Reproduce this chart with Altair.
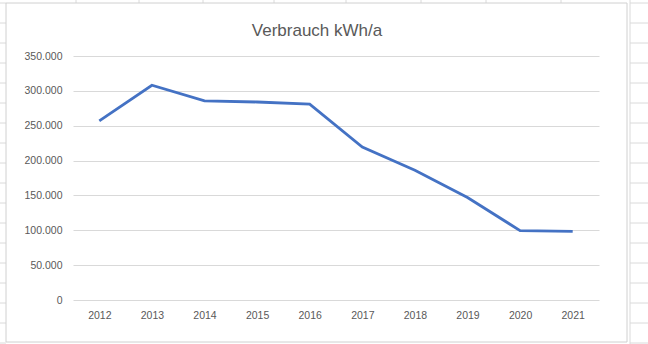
import altair as alt
import pandas as pd

years = ["2012", "2013", "2014", "2015", "2016", "2017", "2018", "2019", "2020", "2021"]
verbrauch = [257000, 308000, 285500, 284000, 281000, 219500, 186000, 147000, 99500, 98500]
title_text = "Verbrauch kWh/a"

df = pd.DataFrame({"Jahr": years, "Verbrauch": verbrauch})

FONT = "Liberation Sans"
GRAY = "#595959"
PAD_L, PAD_T = 73, 56

# Decorative spreadsheet cell lines around the chart frame (page pixels)
row_ys = list(range(3, 344, 20))
deco_rows = []
for yy in row_ys:
    deco_rows.append({"x": 0 - PAD_L, "x2": 6 - PAD_L, "y": yy - PAD_T, "y2": yy - PAD_T})
    deco_rows.append({"x": 630 - PAD_L, "x2": 648 - PAD_L, "y": yy - PAD_T, "y2": yy - PAD_T})
for xx in [76, 139, 203, 274, 346, 421, 486, 561]:
    deco_rows.append({"x": xx - PAD_L, "x2": xx - PAD_L, "y": 0 - PAD_T, "y2": 3 - PAD_T})
deco_rows.append({"x": 630 - PAD_L, "x2": 630 - PAD_L, "y": 0 - PAD_T, "y2": 344 - PAD_T})
deco = pd.DataFrame(deco_rows)

cells = alt.Chart(deco).mark_rule(color="#DADADA", strokeWidth=1).encode(
    x=alt.X("x:Q", scale=None, axis=None),
    x2="x2:Q",
    y=alt.Y("y:Q", scale=None, axis=None),
    y2="y2:Q",
)

frame = alt.Chart(pd.DataFrame({"k": [0]})).mark_rect(
    fill="transparent", stroke="#D0D0D0", strokeWidth=1
).encode(
    x=alt.value(6 - PAD_L), x2=alt.value(627 - PAD_L),
    y=alt.value(3 - PAD_T), y2=alt.value(342 - PAD_T),
)

title = alt.Chart(pd.DataFrame({"t": [title_text]})).mark_text(
    font=FONT, fontSize=17, color=GRAY, align="center", baseline="middle"
).encode(
    text="t:N",
    x=alt.value(317 - PAD_L),
    y=alt.value(31 - PAD_T),
)

line = alt.Chart(df).mark_line(color="#4472C4", strokeWidth=2.8, strokeCap="butt", strokeJoin="miter").encode(
    x=alt.X("Jahr:N", sort=years,
            scale=alt.Scale(type="point", padding=0.5),
            axis=alt.Axis(title=None, labelAngle=0, ticks=False, domain=False, grid=False,
                          labelPadding=10, labelFontSize=10.5, labelColor=GRAY, labelFont=FONT)),
    y=alt.Y("Verbrauch:Q",
            scale=alt.Scale(domain=[0, 350000], nice=False),
            axis=alt.Axis(title=None, values=[0, 50000, 100000, 150000, 200000, 250000, 300000, 350000],
                          labelExpr="replace(format(datum.value, ',d'), /,/g, '.')",
                          ticks=False, domain=False, gridColor="#D9D9D9", gridWidth=1,
                          labelPadding=11, labelFontSize=10.5, labelColor=GRAY, labelFont=FONT)),
)

chart = alt.layer(cells, frame, title, line).resolve_scale(x="independent", y="independent").properties(
    width=526,
    height=244,
    autosize=alt.AutoSizeParams(type="none"),
    padding={"left": PAD_L, "top": PAD_T, "right": 49, "bottom": 44},
    background="white",
).configure_view(stroke=None)

chart.save("out.html", embed_options={"renderer": "svg", "actions": False})
